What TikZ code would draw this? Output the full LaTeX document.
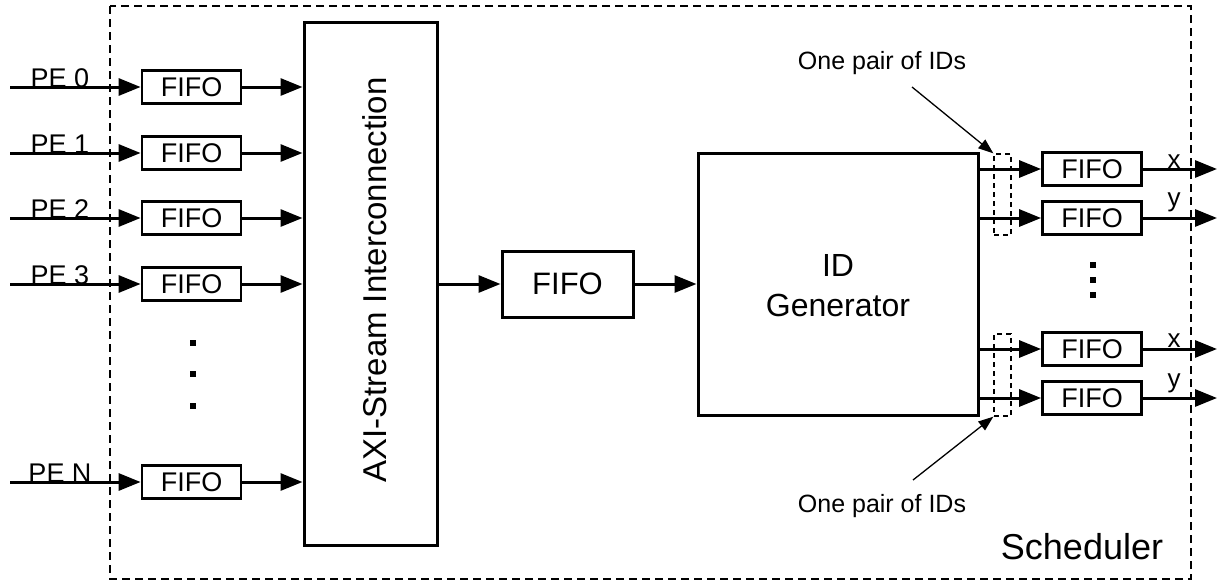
\documentclass[tikz,border=0pt]{standalone}
\usepackage{fontspec}
\setmainfont{Liberation Sans}
\usetikzlibrary{arrows.meta,calc}

\tikzset{
  fifobox/.style={draw, line width=2.8pt, minimum width=99pt, minimum height=33pt,
    inner sep=0pt, font=\fontsize{27}{32}\selectfont},
  bigbox/.style={draw, line width=3pt, inner sep=0pt},
  arr/.style={line width=3pt, -{Triangle[length=22pt,width=17pt]}},
  thinarr/.style={line width=1.3pt, -{Triangle[length=15pt,width=11pt]}},
  lbl/.style={anchor=base, inner sep=0pt, font=\fontsize{27}{32}\selectfont},
  outlbl/.style={anchor=base, inner sep=0pt, font=\fontsize{26}{30}\selectfont},
  note/.style={inner sep=0pt, font=\fontsize{25}{30}\selectfont},
  pairbox/.style={draw, line width=1.4pt, dash pattern=on 5pt off 4pt,
    minimum width=17pt, inner sep=0pt},
  dot/.style={fill, minimum size=6pt, inner sep=0pt},
}

\begin{document}
\begin{tikzpicture}[x=1pt, y=-1pt]
\useasboundingbox (0,0) rectangle (1217,581);

% scheduler frame
\draw[line width=1.5pt, dash pattern=on 8pt off 5pt] (110,6) rectangle (1191,579);
\node[inner sep=0pt, font=\fontsize{36}{40}\selectfont] (sched) at (1082,547) {Scheduler};

% input FIFOs
\node[fifobox] (f0) at (191.5,87)  {FIFO};
\node[fifobox] (f1) at (191.5,153) {FIFO};
\node[fifobox] (f2) at (191.5,218) {FIFO};
\node[fifobox] (f3) at (191.5,284) {FIFO};
\node[fifobox] (fn) at (191.5,482) {FIFO};

% inputs from the processing elements
\coordinate (in0) at (10,87);
\coordinate (in1) at (10,153);
\coordinate (in2) at (10,218);
\coordinate (in3) at (10,284);
\coordinate (inn) at (10,482);
\node[lbl] (pe0) at (60,87)  {PE 0};
\node[lbl] (pe1) at (60,153) {PE 1};
\node[lbl] (pe2) at (60,218) {PE 2};
\node[lbl] (pe3) at (60,284) {PE 3};
\node[lbl] (pen) at (60,482) {PE N};
\foreach \a/\b in {in0/f0, in1/f1, in2/f2, in3/f3, inn/fn}
  \draw[arr] (\a) -- (\b.west);

% vertical ellipsis
\node[dot] (ld1) at (193,343) {};
\node[dot] (ld2) at (193,374) {};
\node[dot] (ld3) at (193,406) {};

% interconnect
\node[bigbox, minimum width=133pt, minimum height=523pt] (axi) at (370.5,283.5) {};
\node[rotate=90, inner sep=0pt, font=\fontsize{33}{38}\selectfont] (axitxt) at (375,280) {AXI-Stream Interconnection};
\foreach \f in {f0,f1,f2,f3,fn}
  \draw[arr] (\f.east) -- (\f.east -| axi.west);

% central FIFO
\node[fifobox, line width=3pt, minimum width=131pt, minimum height=66pt,
  font=\fontsize{31}{36}\selectfont] (fm) at (567.5,284) {FIFO};
\draw[arr] (axi.east |- fm.west) -- (fm.west);

% ID generator
\node[bigbox, minimum width=280pt, minimum height=262pt] (idg) at (838,284) {};
\node[align=center, inner sep=0pt, font=\fontsize{32}{40}\selectfont] (idtxt) at (838,286) {ID\\Generator};
\draw[arr] (fm.east) -- (fm.east -| idg.west);

% output FIFOs
\node[fifobox] (r0) at (1092,169) {FIFO};
\node[fifobox] (r1) at (1092,218) {FIFO};
\node[fifobox] (r2) at (1092,349) {FIFO};
\node[fifobox] (r3) at (1092,398) {FIFO};
\foreach \r in {r0,r1,r2,r3}
  \draw[arr] (idg.east |- \r.west) -- (\r.west);

% outputs
\coordinate (o0) at (1217,169);
\coordinate (o1) at (1217,218);
\coordinate (o2) at (1217,349);
\coordinate (o3) at (1217,398);
\foreach \r/\o in {r0/o0, r1/o1, r2/o2, r3/o3}
  \draw[arr] (\r.east) -- (\o);
\node[outlbl] (x0) at (1174,168) {x};
\node[outlbl] (y0) at (1174,206) {y};
\node[outlbl] (x1) at (1174,347) {x};
\node[outlbl] (y1) at (1174,387) {y};

% vertical ellipsis between output pairs
\node[dot] (rd1) at (1093,265) {};
\node[dot] (rd2) at (1093,280) {};
\node[dot] (rd3) at (1093,295) {};

% ID pairs
\node[pairbox, minimum height=81pt] (pb0) at (1002.5,194.5) {};
\node[pairbox, minimum height=82pt] (pb1) at (1002.5,375) {};

% annotations
\node[note] (n0) at (882,63)  {One pair of IDs};
\node[note] (n1) at (882,506) {One pair of IDs};
\coordinate (a0) at (912,87);
\coordinate (a1) at (913,480);
\draw[thinarr] (a0) -- (pb0.north west);
\draw[thinarr] (a1) -- (pb1.south west);
\end{tikzpicture}
\end{document}
